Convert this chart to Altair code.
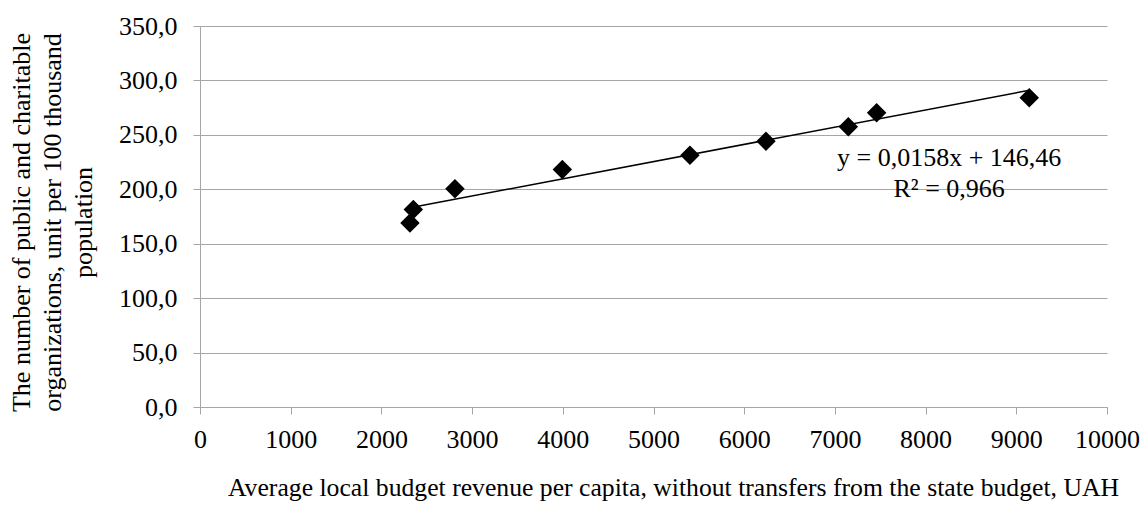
import altair as alt
import pandas as pd

# Average local budget revenue per capita (UAH) and number of organisations per 100k
revenue = [2315, 2352, 2811, 3995, 5402, 6240, 7148, 7460, 9143]
organizations = [169.1, 181.4, 200.6, 218.2, 231.3, 244.2, 257.4, 270.2, 284.0]

# Linear trend as reported
slope = 0.0158
intercept = 146.46
r_squared = 0.966

x_ticks = list(range(0, 10001, 1000))
y_ticks = list(range(0, 351, 50))

FONT = "Liberation Serif"
GRID = "#a6a6a6"
NBSP = "\u00a0"

points = pd.DataFrame({"revenue": revenue, "orgs": organizations})
trend = pd.DataFrame({"revenue": [min(revenue), max(revenue)]})
trend["orgs"] = slope * trend["revenue"] + intercept

eq_text = "y = {}x + {}".format(f"{slope:.4f}".replace(".", ","), f"{intercept:.2f}".replace(".", ","))
r2_text = "R² = {}".format(f"{r_squared:.3f}".replace(".", ","))
labels = pd.DataFrame({
    "revenue": [8260, 8260],
    "orgs": [221.0, 193.0],
    "text": [eq_text, r2_text],
})

x_enc = alt.X(
    "revenue:Q",
    scale=alt.Scale(domain=[0, 10000], nice=False, zero=True),
    axis=alt.Axis(
        values=x_ticks,
        format="d",
        labelOverlap=False,
        labelFlush=False,
        title="Average local budget revenue per capita, without transfers from the state budget, UAH",
        grid=False,
        domainColor=GRID,
        tickColor=GRID,
        tickSize=7,
        labelPadding=33,
        labelBaseline="alphabetic",
        labelFont=FONT,
        labelFontSize=26,
        labelColor="black",
        titleFont=FONT,
        titleFontSize=25.7,
        titleFontWeight="normal",
        titleColor="black",
        titleX=473,
        titleY=88,
        titleAlign="center",
        titleBaseline="alphabetic",
    ),
)

y_enc = alt.Y(
    "orgs:Q",
    scale=alt.Scale(domain=[0, 350], nice=False, zero=True),
    axis=alt.Axis(
        values=y_ticks,
        labelExpr="replace(format(datum.value, '.1f'), '.', ',')",
        labelOverlap=False,
        labelFlush=False,
        title=[
            "The number of public and charitable",
            "organizations, unit per 100 thousand",
            NBSP * 4 + "population",
        ],
        grid=True,
        gridColor=GRID,
        gridWidth=1,
        domainColor=GRID,
        tickColor=GRID,
        tickSize=7,
        labelPadding=16,
        labelFont=FONT,
        labelFontSize=26,
        labelColor="black",
        titleFont=FONT,
        titleFontSize=26,
        titleFontWeight="normal",
        titleColor="black",
        titleLineHeight=31,
        titleAngle=270,
        titleX=-171,
        titleY=196,
        titleAlign="center",
        titleBaseline="alphabetic",
    ),
)

trend_line = alt.Chart(trend).mark_line(color="black", strokeWidth=1.5).encode(x=x_enc, y=y_enc)

markers = alt.Chart(points).mark_point(
    shape="diamond", filled=True, color="black", size=380, opacity=1
).encode(x="revenue:Q", y="orgs:Q")

annotation = alt.Chart(labels).mark_text(
    font=FONT, fontSize=26, color="black", align="center", baseline="alphabetic"
).encode(x="revenue:Q", y="orgs:Q", text="text:N")

chart = (
    alt.layer(trend_line, markers, annotation)
    .properties(
        width=907,
        height=381,
        autosize=alt.AutoSizeParams(type="none"),
        padding={"left": 200, "top": 26, "right": 37, "bottom": 98},
        background="white",
    )
    .configure_view(stroke=None)
)

chart.save("out.html", embed_options={"renderer": "svg", "actions": False})
